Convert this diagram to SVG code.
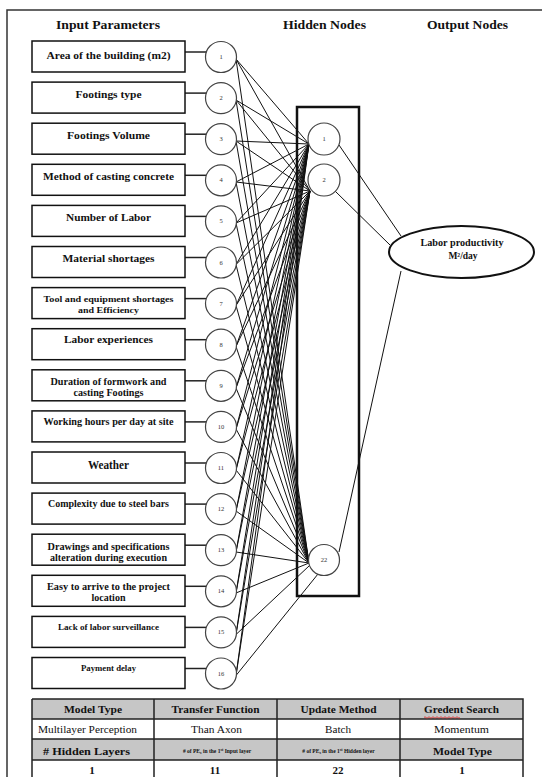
<svg xmlns="http://www.w3.org/2000/svg" width="542" height="777" viewBox="0 0 542 777">
<style>
.frame{fill:none;stroke:#333;stroke-width:1.5}
.hdr{font-family:"Liberation Serif","Times New Roman",serif;font-weight:bold;font-size:13.5px;fill:#111;text-anchor:middle}
.box{fill:#fff;stroke:#111;stroke-width:1.5}
.bt{font-family:"Liberation Serif","Times New Roman",serif;font-weight:bold;fill:#111;text-anchor:middle}
.in{fill:#fff;stroke:#444;stroke-width:1.2}
.num{font-family:"Liberation Serif","Times New Roman",serif;font-size:6.5px;fill:#333;text-anchor:middle}
.ln{stroke:#111;stroke-width:1;fill:none}
.lk{stroke:#222;stroke-width:1.5;fill:none}
.hbox{fill:none;stroke:#111;stroke-width:2.5}
.out{fill:#fff;stroke:#111;stroke-width:2}
.gr{fill:#c6c6c6}
.tb{fill:none;stroke:#222;stroke-width:1.5}
.tt{font-family:"Liberation Serif","Times New Roman",serif;fill:#111;text-anchor:middle}
</style>
<rect x="0" y="0" width="542" height="777" fill="#fff"/>
<path class="frame" d="M7,777 V10 H542"/>
<g id="headers">
<text class="hdr" x="108" y="29" textLength="104" lengthAdjust="spacingAndGlyphs">Input Parameters</text>
<text class="hdr" x="324.5" y="29" textLength="83" lengthAdjust="spacingAndGlyphs">Hidden Nodes</text>
<text class="hdr" x="467.5" y="29" textLength="81" lengthAdjust="spacingAndGlyphs">Output Nodes</text>
</g>
<g id="connectors">
<g class="lk">
<line x1="185" y1="52" x2="207" y2="52"/>
<line x1="185" y1="93.1" x2="207" y2="93.1"/>
<line x1="185" y1="134.2" x2="207" y2="134.2"/>
<line x1="185" y1="175.3" x2="207" y2="175.3"/>
<line x1="185" y1="216.4" x2="207" y2="216.4"/>
<line x1="185" y1="257.5" x2="207" y2="257.5"/>
<line x1="185" y1="298.6" x2="207" y2="298.6"/>
<line x1="185" y1="339.7" x2="207" y2="339.7"/>
<line x1="185" y1="380.8" x2="207" y2="380.8"/>
<line x1="185" y1="421.9" x2="207" y2="421.9"/>
<line x1="185" y1="463" x2="207" y2="463"/>
<line x1="185" y1="504.1" x2="207" y2="504.1"/>
<line x1="185" y1="545.2" x2="207" y2="545.2"/>
<line x1="185" y1="586.3" x2="207" y2="586.3"/>
<line x1="185" y1="627.4" x2="207" y2="627.4"/>
<line x1="185" y1="668.5" x2="207" y2="668.5"/>
</g>
<g class="ln">
<path d="M236,59 L309,144 M236,59 L310,191 M236,59 L309,563"/>
<path d="M236,100 L309,144 M236,100 L310,191 M236,100 L309,563"/>
<path d="M236,141 L309,144 M236,141 L310,191 M236,141 L309,563"/>
<path d="M236,182 L309,144 M236,182 L310,191 M236,182 L309,563"/>
<path d="M236,223 L309,144 M236,223 L310,191 M236,223 L309,563"/>
<path d="M236,264.5 L309,144 M236,264.5 L310,191 M236,264.5 L309,563"/>
<path d="M236,305.5 L309,144 M236,305.5 L310,191 M236,305.5 L309,563"/>
<path d="M236,346.5 L309,144 M236,346.5 L310,191 M236,346.5 L309,563"/>
<path d="M236,388 L309,144 M236,388 L310,191 M236,388 L309,563"/>
<path d="M236,429 L309,144 M236,429 L310,191 M236,429 L309,563"/>
<path d="M236,470 L309,144 M236,470 L310,191 M236,470 L309,563"/>
<path d="M236,511 L309,144 M236,511 L310,191 M236,511 L309,563"/>
<path d="M236,552 L309,144 M236,552 L310,191 M236,552 L309,563"/>
<path d="M236,593 L309,144 M236,593 L310,191 M236,593 L309,563"/>
<path d="M236,634.5 L309,144 M236,634.5 L310,191 M236,634.5 L309,566"/>
<path d="M236,675.5 L309,144 M236,675.5 L310,191 M236,675.5 L318,574"/>
<path d="M339,145 L401,236 M335,191 L390,245 M339,552 L401,271"/>
</g>
</g>
<rect id="hidden-layer" class="hbox" x="297" y="107" width="62" height="489"/>
<g id="in1"><rect class="box" x="32" y="41" width="153" height="31"/><text class="bt" x="108.5" y="58.5" font-size="11" textLength="124" lengthAdjust="spacingAndGlyphs">Area of the building (m2)</text><circle class="in" cx="221" cy="57" r="15.5"/><text class="num" x="221" y="59">1</text></g>
<g id="in2"><rect class="box" x="32" y="82.1" width="153" height="31"/><text class="bt" x="108.5" y="97.5" font-size="11" textLength="66" lengthAdjust="spacingAndGlyphs">Footings type</text><circle class="in" cx="221" cy="98.1" r="15.5"/><text class="num" x="221" y="100.1">2</text></g>
<g id="in3"><rect class="box" x="32" y="123.2" width="153" height="31"/><text class="bt" x="108.5" y="138.5" font-size="11" textLength="83" lengthAdjust="spacingAndGlyphs">Footings Volume</text><circle class="in" cx="221" cy="139.2" r="15.5"/><text class="num" x="221" y="141.2">3</text></g>
<g id="in4"><rect class="box" x="32" y="164.3" width="153" height="31"/><text class="bt" x="108.5" y="179.5" font-size="11" textLength="131" lengthAdjust="spacingAndGlyphs">Method of casting concrete</text><circle class="in" cx="221" cy="180.3" r="15.5"/><text class="num" x="221" y="182.3">4</text></g>
<g id="in5"><rect class="box" x="32" y="205.4" width="153" height="31"/><text class="bt" x="108.5" y="220.5" font-size="11" textLength="85" lengthAdjust="spacingAndGlyphs">Number of Labor</text><circle class="in" cx="221" cy="221.4" r="15.5"/><text class="num" x="221" y="223.4">5</text></g>
<g id="in6"><rect class="box" x="32" y="246.5" width="153" height="31"/><text class="bt" x="108.5" y="261.5" font-size="11" textLength="92" lengthAdjust="spacingAndGlyphs">Material shortages</text><circle class="in" cx="221" cy="262.5" r="15.5"/><text class="num" x="221" y="264.5">6</text></g>
<g id="in7"><rect class="box" x="32" y="287.6" width="153" height="31"/><text class="bt" x="108.5" y="302" font-size="9" textLength="130" lengthAdjust="spacingAndGlyphs">Tool and equipment shortages</text><text class="bt" x="108.5" y="312.5" font-size="9" textLength="61" lengthAdjust="spacingAndGlyphs">and Efficiency</text><circle class="in" cx="221" cy="303.6" r="15.5"/><text class="num" x="221" y="305.6">7</text></g>
<g id="in8"><rect class="box" x="32" y="328.7" width="153" height="31"/><text class="bt" x="108.5" y="343" font-size="11" textLength="89" lengthAdjust="spacingAndGlyphs">Labor experiences</text><circle class="in" cx="221" cy="344.7" r="15.5"/><text class="num" x="221" y="346.7">8</text></g>
<g id="in9"><rect class="box" x="32" y="369.8" width="153" height="31"/><text class="bt" x="108.5" y="384.5" font-size="9.5" textLength="116" lengthAdjust="spacingAndGlyphs">Duration of formwork and</text><text class="bt" x="108.5" y="395.5" font-size="9.5" textLength="70" lengthAdjust="spacingAndGlyphs">casting Footings</text><circle class="in" cx="221" cy="385.8" r="15.5"/><text class="num" x="221" y="387.8">9</text></g>
<g id="in10"><rect class="box" x="32" y="410.9" width="153" height="31"/><text class="bt" x="108.5" y="425" font-size="9.5" textLength="130" lengthAdjust="spacingAndGlyphs">Working hours per day at site</text><circle class="in" cx="221" cy="426.9" r="15.5"/><text class="num" x="221" y="428.9">10</text></g>
<g id="in11"><rect class="box" x="32" y="452" width="153" height="31"/><text class="bt" x="108.5" y="469" font-size="12" textLength="41" lengthAdjust="spacingAndGlyphs">Weather</text><circle class="in" cx="221" cy="468" r="15.5"/><text class="num" x="221" y="470">11</text></g>
<g id="in12"><rect class="box" x="32" y="493.1" width="153" height="31"/><text class="bt" x="108.5" y="506.5" font-size="9.5" textLength="121" lengthAdjust="spacingAndGlyphs">Complexity due to steel bars</text><circle class="in" cx="221" cy="509.1" r="15.5"/><text class="num" x="221" y="511.1">12</text></g>
<g id="in13"><rect class="box" x="32" y="534.2" width="153" height="31"/><text class="bt" x="108.5" y="549.5" font-size="10" textLength="122" lengthAdjust="spacingAndGlyphs">Drawings and specifications</text><text class="bt" x="108.5" y="560.5" font-size="10" textLength="117" lengthAdjust="spacingAndGlyphs">alteration during execution</text><circle class="in" cx="221" cy="550.2" r="15.5"/><text class="num" x="221" y="552.2">13</text></g>
<g id="in14"><rect class="box" x="32" y="575.3" width="153" height="31"/><text class="bt" x="108.5" y="589.5" font-size="10" textLength="123" lengthAdjust="spacingAndGlyphs">Easy to arrive to the project</text><text class="bt" x="108.5" y="600.5" font-size="10" textLength="34" lengthAdjust="spacingAndGlyphs">location</text><circle class="in" cx="221" cy="591.3" r="15.5"/><text class="num" x="221" y="593.3">14</text></g>
<g id="in15"><rect class="box" x="32" y="616.4" width="153" height="31"/><text class="bt" x="108.5" y="630" font-size="8" textLength="101" lengthAdjust="spacingAndGlyphs">Lack of labor surveillance</text><circle class="in" cx="221" cy="632.4" r="15.5"/><text class="num" x="221" y="634.4">15</text></g>
<g id="in16"><rect class="box" x="32" y="657.5" width="153" height="31"/><text class="bt" x="108.5" y="671" font-size="8" textLength="55" lengthAdjust="spacingAndGlyphs">Payment delay</text><circle class="in" cx="221" cy="673.5" r="15.5"/><text class="num" x="221" y="675.5">16</text></g>
<g id="h1"><circle class="in" cx="324" cy="139" r="16"/><text class="num" x="324" y="141">1</text></g>
<g id="h2"><circle class="in" cx="324" cy="180" r="16"/><text class="num" x="324" y="182">2</text></g>
<g id="h22"><circle class="in" cx="324" cy="560" r="15.5"/><text class="num" x="324" y="562">22</text></g>
<g id="output"><ellipse class="out" cx="461.5" cy="252" rx="72.5" ry="26"/><text class="bt" x="462" y="246" font-size="9.5" textLength="83" lengthAdjust="spacingAndGlyphs">Labor productivity</text><text class="bt" x="463" y="259" font-size="9.5">M²/day</text></g>
<g id="table">
<rect class="gr" x="32" y="699" width="491" height="20"/>
<rect class="gr" x="32" y="739" width="491" height="21"/>
<path class="tb" d="M32,699 H523 V782 M32,699 V782 M154,699 V782 M277,699 V782 M400,699 V782 M32,719 H523 M32,739 H523 M32,760 H523"/>
<g class="tt" font-weight="bold" font-size="11">
<text x="93" y="713" textLength="58" lengthAdjust="spacingAndGlyphs">Model Type</text>
<text x="215.5" y="713" textLength="88" lengthAdjust="spacingAndGlyphs">Transfer Function</text>
<text x="338.5" y="713" textLength="76" lengthAdjust="spacingAndGlyphs">Update Method</text>
<text x="461.5" y="713" textLength="75" lengthAdjust="spacingAndGlyphs">Gredent Search</text>
<text x="86.5" y="755" textLength="87" lengthAdjust="spacingAndGlyphs"># Hidden Layers</text>
<text x="462.5" y="755" textLength="59" lengthAdjust="spacingAndGlyphs">Model Type</text>
<text x="92" y="774">1</text>
<text x="215" y="774">11</text>
<text x="338" y="774">22</text>
<text x="462" y="774">1</text>
</g>
<path d="M424,717.5 q1,-1.5 2,0 t2,0 t2,0 t2,0 t2,0 t2,0 t2,0 t2,0 t2,0 t2,0 t2,0 t2,0 t2,0 t2,0 t2,0 t2,0 t2,0 t2,0" fill="none" stroke="#d22" stroke-width="0.8"/>
<g class="tt" font-size="10">
<text x="87.5" y="733" font-size="9.5" textLength="99" lengthAdjust="spacingAndGlyphs">Multilayer Perception</text>
<text x="216.5" y="733" textLength="51" lengthAdjust="spacingAndGlyphs">Than Axon</text>
<text x="338" y="733" textLength="26" lengthAdjust="spacingAndGlyphs">Batch</text>
<text x="461.5" y="733" textLength="55" lengthAdjust="spacingAndGlyphs">Momentum</text>
</g>
<g class="tt" font-weight="bold" font-size="5.5">
<text x="217" y="752.5"># of PE<tspan font-size="4" dy="1">s</tspan><tspan dy="-1"> in the 1</tspan><tspan font-size="4" dy="-2">st</tspan><tspan dy="2"> Input layer</tspan></text>
<text x="338.5" y="752.5"># of PE<tspan font-size="4" dy="1">s</tspan><tspan dy="-1"> in the 1</tspan><tspan font-size="4" dy="-2">st</tspan><tspan dy="2"> Hidden layer</tspan></text>
</g>
</g>
</svg>
